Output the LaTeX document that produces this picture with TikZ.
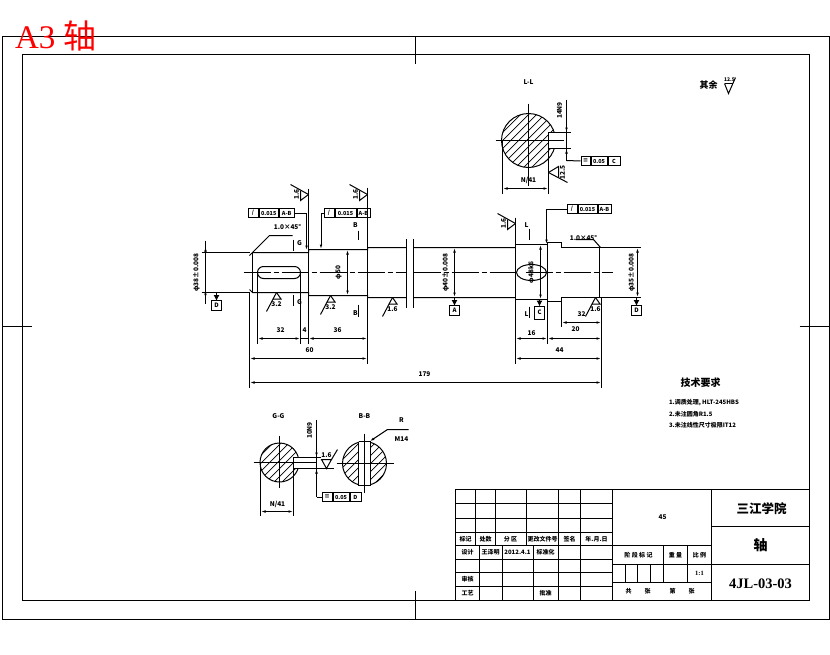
\documentclass[tikz,border=0pt]{standalone}
\usepackage{fontspec}
\setmainfont{Noto Sans CJK SC}
\newfontfamily\serifpart{Liberation Serif}
\usetikzlibrary{arrows.meta}

\tikzset{
	x=1pt, y=-1pt,
	>={Latex[length=5pt,width=2.6pt]},
	dimline/.style={<->},
	datumtip/.style={-{Latex[length=6pt,width=6pt]}, shorten >=-1pt},
	centerline/.style={line width=0.7pt, dash pattern=on 27pt off 3pt on 5pt off 3pt},
	thinline/.style={line width=0.7pt},
	dimtext/.style={inner sep=0pt, font=\fontsize{6.5}{7}\selectfont\bfseries},
	tabletext/.style={inner sep=0pt, font=\fontsize{6}{7}\selectfont\bfseries},
	tolcell/.style={draw, inner sep=0pt, anchor=west, minimum height=9pt, font=\fontsize{5.5}{6}\selectfont\bfseries},
	datumbox/.style={draw, inner sep=0pt, minimum width=10pt, minimum height=10pt, font=\fontsize{6}{7}\selectfont\bfseries},
}

% frame of a tolerance: name, left end, widths, texts
\newcommand{\tolframe}[8]{
	\node[tolcell, minimum width=#3pt] (#1a) at (#2) {#6};
	\node[tolcell, minimum width=#4pt] (#1b) at (#1a.east) {#7};
	\node[tolcell, minimum width=#5pt] (#1c) at (#1b.east) {#8};
}
% surface mark standing on a line from below
\newcommand{\roughbelow}[3]{
	\draw (#1,#2) -- +(-10,19);
	\draw (#1,#2) -- +(4.5,6.5) -- +(-4,6.5);
	\node[dimtext] (rb#1) at ([yshift=-12pt]#1,#2) {#3};
}
% surface mark standing on a line from the left
\newcommand{\roughside}[3]{
	\draw (#1,#2) -- +(-18,-10);
	\draw (#1,#2) -- +(-8,6) -- +(-8,-4);
	\node[dimtext, rotate=90] (rs#1) at ([xshift=-12pt]#1,#2) {#3};
}
% round section with hatching
\newcommand{\hatchcircle}[3]{
	\begin{scope}
		\clip (#1,#2) circle (#3);
		\foreach \d in {-50,-42,...,50}
			\draw[thinline] ({#1+\d-40},{#2+40}) -- ({#1+\d+40},{#2-40});
	\end{scope}
	\draw (#1,#2) circle (#3);
}

\begin{document}
\begin{tikzpicture}[line width=1pt]
\useasboundingbox (0,0) rectangle (830,654);
\fill[white] (0,0) rectangle (830,654);

\begin{scope}[shift={(0.5,0.5)}]
	%% Rahmen
	\draw (2,36) rectangle (829,619);
	\draw (22,54) rectangle (809,600);
	\draw (415,36) -- (415,63);
	\draw (415,590) -- (415,619);
	\draw (2,326) -- (31,326);
	\draw (799,326) -- (829,326);
	\node[anchor=west, inner sep=0pt, text=red] (sheet) at (14,35) {\fontsize{33}{33}\selectfont{\serifpart A3}\hspace{8pt}轴};

	%% Welle
	\draw (249,255) -- (252,252) -- (308,252) -- (308,249) -- (367,249) -- (367,247) -- (515,247);
	\draw (249,289) -- (252,292) -- (308,292) -- (308,295) -- (367,295) -- (367,297) -- (515,297);
	\draw (515,247) -- (515,244) -- (547,244) -- (547,242) -- (561,242) -- (561,247) -- (602,247);
	\draw (515,297) -- (515,299) -- (547,299) -- (547,301) -- (561,301) -- (561,297) -- (602,297);
	\draw[thinline] (252,252) -- (252,292);
	\draw (599,247) -- (599,297);
	\draw[fill=white, draw=white] (406.5,244) rectangle (412.5,300);
	\draw (406,238) -- (406,307);
	\draw (413,238) -- (413,307);
	\draw[rounded corners=6pt] (257,266) rectangle (300,278);
	\draw (531,272) ellipse (15 and 8);

	%% Mittellinien
	\draw[centerline] (243,272) -- (406,272);
	\draw[centerline] (413,272) -- (515,272);
	\draw[centerline] (525,272) -- (612,272);

	%% Hilfslinien
	\draw (249,292) -- (249,387);
	\draw (308,188) -- (308,343);
	\draw (367,187) -- (367,363);
	\draw (515,217) -- (515,363);
	\draw (547,244) -- (547,343);
	\draw (561,301) -- (561,326);
	\draw (601,297) -- (601,387);
	\draw (257,273) -- (257,343);
	\draw (300,273) -- (300,343);
	\draw (201,252) -- (249,252);
	\draw (201,292) -- (249,292);
	\draw (602,247) -- (640,247);
	\draw (602,297) -- (640,297);

	%% Masse
	\draw[dimline] (257,338) -- (300,338);
	\draw (300,338) -- (308,338);
	\draw[dimline] (308,338) -- (367,338);
	\draw[dimline] (249,358) -- (367,358);
	\draw[dimline] (249,382) -- (601,382);
	\draw[dimline] (515,338) -- (547,338);
	\draw[dimline] (547,338) -- (601,338);
	\draw[dimline] (561,322) -- (601,322);
	\draw[dimline] (515,358) -- (601,358);
	\draw[dimline] (205,246) -- (205,298);
	\draw (205,240) -- (205,303);
	\draw[dimline] (347,249) -- (347,295);
	\draw[dimline] (454,247) -- (454,297);
	\draw[dimline] (540,244) -- (540,299);
	\draw[dimline] (637,247) -- (637,297);
	\node[dimtext] (lenA) at (280,330) {32};
	\node[dimtext] (lenB) at (304,330) {4};
	\node[dimtext] (lenC) at (337,330) {36};
	\node[dimtext] (lenD) at (309,350) {60};
	\node[dimtext] (lenE) at (424,374) {179};
	\node[dimtext] (lenF) at (531,333) {16};
	\node[dimtext] (lenG) at (559,350) {44};
	\node[dimtext] (lenH) at (575,329) {20};
	\node[dimtext, rotate=90] (diaA) at (196,272) {φ38±0.008};
	\node[dimtext, rotate=90] (diaB) at (338,272) {φ50};
	\node[dimtext, rotate=90] (diaC) at (445,272) {φ40±0.008};
	\node[dimtext, rotate=90] (diaD) at (531,272) {φ48k6};
	\node[dimtext, rotate=90] (diaE) at (631,272) {φ35±0.008};

	%% Fasen
	\node[dimtext] (chamA) at (287,226) {1.0×45°};
	\coordinate (chamAend) at (252,252);
	\draw (292,235) -- (269,235) -- (chamAend);
	\node[dimtext] (chamB) at (583,237) {1.0×45°};
	\coordinate (chamBend) at (600,247);
	\draw (575,239) -- (593,239) -- (chamBend);

	%% Bezugsfelder
	\node[datumbox] (datD) at (216,305) {D};
	\node[datumbox] (datA) at (454,310) {A};
	\node[datumbox, minimum height=13pt] (datC) at (539,312) {C};
	\node[datumbox] (datE) at (636,310) {D};
	\draw[datumtip] (216,292) -- (datD.north);
	\draw[datumtip] (454,297) -- (datA.north);
	\draw[datumtip] (539,299) -- (datC.north);
	\draw[datumtip] (636,297) -- (datE.north);

	%% Form- und Lagetoleranzen
	\tolframe{tolA}{247,212.5}{10}{19.5}{14.5}{\textbf{/}}{0.015}{A-B}
	\tolframe{tolB}{323,212.5}{10}{21}{13}{\textbf{/}}{0.015}{A-B}
	\tolframe{tolC}{566,208.5}{10}{19}{13}{\textbf{/}}{0.015}{A-B}
	\tolframe{tolD}{580,160.5}{9}{16}{12}{≡}{0.05}{C}
	\tolframe{tolE}{321,496.5}{10}{16}{11}{≡}{0.05}{D}
	\coordinate (tolAend) at (306,250);
	\coordinate (tolBend) at (320.5,249);
	\coordinate (tolCend) at (546,244);
	\draw[->] (tolAc.east) -| (tolAend);
	\draw[->] (tolBa.west) -| (tolBend);
	\draw[->] (tolCa.west) -| (tolCend);

	%% Oberflaechen
	\roughside{308}{194}{1.6}
	\roughside{367}{194}{1.6}
	\roughside{515}{223}{1.6}
	\roughbelow{276}{292}{3.2}
	\roughbelow{330}{295}{3.2}
	\roughbelow{392}{297}{1.6}
	\roughbelow{595}{297}{1.6}
	\node[dimtext] (roughE) at (581,314) {32};

	%% Schnittmarken
	\draw (293,239) -- (293,250);
	\draw (293,294) -- (293,305);
	\draw (358,230) -- (358,239);
	\draw (358,304) -- (358,316);
	\draw (529,228) -- (529,239);
	\draw (529,306) -- (529,317);
	\node[dimtext] (cutA) at (299,243) {G};
	\node[dimtext] (cutB) at (299,302) {G};
	\node[dimtext] (cutC) at (355,225) {B};
	\node[dimtext] (cutD) at (355,313) {B};
	\node[dimtext] (cutE) at (526,225) {L};
	\node[dimtext] (cutF) at (526,314) {L};

	%% Schnitt L-L
	\node[dimtext] (titleL) at (528,82) {L-L};
	\hatchcircle{528}{140}{27}
	\fill[white] (548,132) rectangle (558,148);
	\draw (570,132) -- (548,132) -- (548,148) -- (570,148);
	\draw[thinline] (495,140) -- (563,140);
	\draw[thinline] (528,103) -- (528,185);
	\draw (502,140) -- (502,193);
	\draw (548,148) -- (548,193);
	\draw[dimline] (502,188) -- (548,188);
	\node[dimtext] (lenL) at (528,180) {N/41};
	\draw (566,99) -- (566,160);
	\draw[->] (566,118) -- (566,132);
	\draw[->] (566,160) -- (566,148);
	\draw (566,160) -- (tolDa.west);
	\node[dimtext, rotate=90] (widthL) at (559,110) {14N9};
	\draw (548,172) -- (558,166) -- (558,177);
	\draw (548,172) -- (567,182);
	\node[dimtext, rotate=90] (roughL) at (562,172) {12.5};

	%% Schnitt G-G
	\node[dimtext] (titleG) at (278,416) {G-G};
	\hatchcircle{279}{462}{19.5}
	\fill[white] (293,457) rectangle (300,468);
	\draw (320,457) -- (293,457) -- (293,468) -- (333,468);
	\draw[thinline] (253,462) -- (315,462);
	\draw[thinline] (279,435) -- (279,487);
	\draw (260,462) -- (260,515);
	\draw (293,468) -- (293,515);
	\draw[dimline] (260,511) -- (293,511);
	\node[dimtext] (lenM) at (277,504) {N/41};
	\draw (316,419) -- (316,496.5);
	\draw[->] (316,440) -- (316,457);
	\draw[->] (316,490) -- (316,468);
	\draw (316,496.5) -- (tolEa.west);
	\node[dimtext, rotate=90] (widthG) at (309,430) {10N9};
	\draw (321,459) -- (331,459) -- (326,468) -- cycle;
	\draw (331,459) -- (337,449);
	\node[dimtext] (roughG) at (326,455) {1.6};

	%% Schnitt B-B
	\node[dimtext] (titleB) at (364,416) {B-B};
	\hatchcircle{364}{463}{22}
	\fill[white] (358,440) rectangle (370,486);
	\draw[line width=1.6pt] (358,441) -- (358,485);
	\draw (358,441) -- (370,441) -- (370,485) -- (358,485);
	\draw[thinline] (336,463) -- (393,463);
	\draw[thinline] (364,433) -- (364,492);
	\coordinate (slotB) at (369,441);
	\draw[->] (408,429) -- (387,429) -- (slotB);
	\node[dimtext] (radB) at (401,420) {R};
	\node[dimtext] (sizeB) at (401,439) {M14};

	%% Oberflaeche Rest
	\node[inner sep=0pt, font=\fontsize{9}{10}\selectfont\bfseries] (restA) at (708,85) {其余};
	\draw (724,83) -- (732,83);
	\draw (724,83) -- (728,93) -- (735,77);
	\node[inner sep=0pt, font=\fontsize{5}{6}\selectfont\bfseries] (restB) at (729,79) {12.5};

	%% Technische Anforderungen
	\node[inner sep=0pt, font=\fontsize{10}{11}\selectfont\bfseries] (techA) at (700,382) {技术要求};
	\node[tabletext, anchor=west] (techB) at (668,402) {1.调质处理, HLT-245HBS};
	\node[tabletext, anchor=west] (techC) at (668,414) {2.未注圆角R1.5};
	\node[tabletext, anchor=west] (techD) at (668,425) {3.未注线性尺寸极限IT12};

	%% Schriftfeld
	\draw (455,489) rectangle (809,600);
	\foreach \y in {503,518,532,545,559,572,586}
		\draw (455,\y) -- (612,\y);
	\foreach \x in {475,495,526,558,580}
		\draw (\x,489) -- (\x,545);
	\foreach \x in {479,502,533,558,580}
		\draw (\x,545) -- (\x,600);
	\draw (612,489) -- (612,600);
	\draw (711,489) -- (711,600);
	\draw (612,545) -- (711,545);
	\draw (612,564) -- (711,564);
	\draw (612,582) -- (711,582);
	\draw (711,526) -- (809,526);
	\draw (711,564) -- (809,564);
	\draw (663,545) -- (663,582);
	\draw (687,545) -- (687,582);
	\foreach \x in {625,637,650}
		\draw (\x,564) -- (\x,582);
	\foreach \x/\t in {465/标记,485/处数,510/分 区,542/更改文件号,569/签名,596/年.月.日}
		\node[tabletext] (head\x) at (\x,538.5) {\t};
	\foreach \x/\t in {467/设计,490/王泽明,517/2012.4.1,545/标准化}
		\node[tabletext] (rowA\x) at (\x,552) {\t};
	\node[tabletext] (rowB) at (467,579) {审核};
	\node[tabletext] (rowC) at (467,593) {工艺};
	\node[tabletext] (rowD) at (545,593) {批准};
	\node[tabletext] (stage) at (638,555) {阶 段 标 记};
	\node[tabletext] (weight) at (675,555) {重 量};
	\node[tabletext] (ratio) at (699,555) {比 例};
	\node[dimtext] (ratioval) at (699,573) {\serifpart 1:1};
	\foreach \x/\t in {628/共,647/张,672/第,691/张}
		\node[tabletext] (sheet\x) at (\x,591) {\t};
	\node[dimtext] (material) at (662,517) {45};
	\node[inner sep=0pt, font=\fontsize{12.5}{13}\selectfont\bfseries] (school) at (761,508) {三江学院};
	\node[inner sep=0pt, font=\fontsize{14}{15}\selectfont\bfseries] (partname) at (760,545) {轴};
	\node[inner sep=0pt, font=\fontsize{14.5}{17}\selectfont\serifpart\bfseries] (drawno) at (760,583) {4JL-03-03};
\end{scope}
\end{tikzpicture}
\end{document}
